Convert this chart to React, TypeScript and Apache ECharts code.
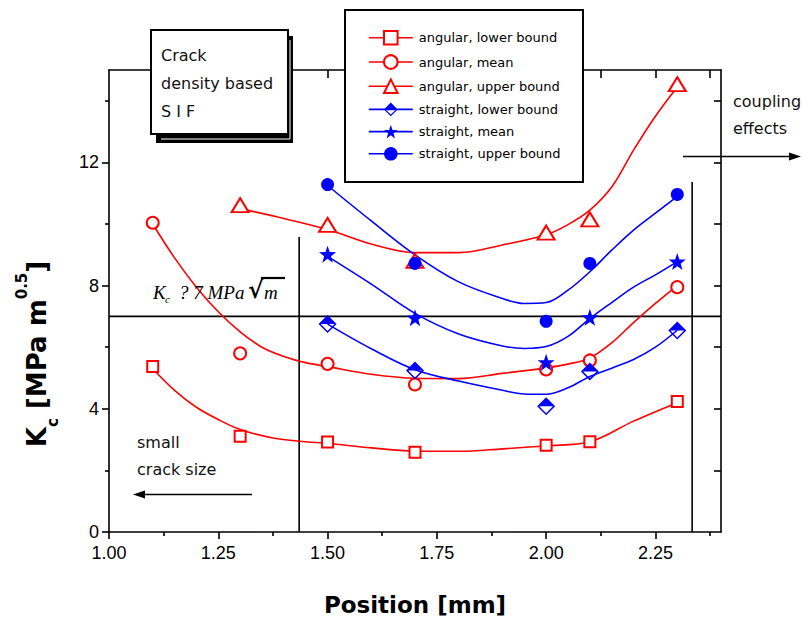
import React, { useEffect, useRef } from 'react';
import * as echarts from 'echarts';

// ---- measured data (markers) ----
const posAngular = [1.1, 1.3, 1.5, 1.7, 2.0, 2.1, 2.3];
const angularLower = [5.37, 3.11, 2.92, 2.59, 2.82, 2.93, 4.24];
const angularMean = [10.04, 5.8, 5.46, 4.79, 5.28, 5.57, 7.95];
const posAngularUpper = [1.3, 1.5, 1.7, 2.0, 2.1, 2.3];
const angularUpper = [10.61, 9.97, 8.8, 9.72, 10.15, 14.54];
const posStraight = [1.5, 1.7, 2.0, 2.1, 2.3];
const straightLower = [6.75, 5.24, 4.08, 5.21, 6.54];
const straightMean = [9.02, 6.96, 5.51, 6.97, 8.78];
const straightUpper = [11.28, 8.72, 6.84, 8.72, 10.96];

// ---- fitted curves ----
const fitAngularLowerX = [1.1, 1.15, 1.2, 1.25, 1.3, 1.375, 1.45, 1.5, 1.6, 1.7, 1.8, 1.9, 2.0, 2.1, 2.2, 2.3];
const fitAngularLowerY = [5.3, 4.6, 4.05, 3.65, 3.33, 3.05, 2.93, 2.88, 2.73, 2.63, 2.62, 2.7, 2.8, 2.93, 3.6, 4.2];
const fitAngularMeanX = [1.1, 1.15, 1.2, 1.25, 1.3, 1.35, 1.4, 1.45, 1.5, 1.6, 1.7, 1.8, 1.9, 2.0, 2.05, 2.1, 2.15, 2.2, 2.25, 2.3];
const fitAngularMeanY = [10.0, 8.9, 7.95, 7.15, 6.5, 6.0, 5.7, 5.5, 5.37, 5.12, 4.99, 4.98, 5.15, 5.33, 5.45, 5.65, 6.14, 6.8, 7.42, 8.0];
const fitAngularUpperX = [1.3, 1.4, 1.5, 1.6, 1.7, 1.8, 1.9, 2.0, 2.05, 2.1, 2.15, 2.2, 2.25, 2.3];
const fitAngularUpperY = [10.5, 10.18, 9.82, 9.35, 9.07, 9.07, 9.32, 9.65, 9.98, 10.45, 11.2, 12.4, 13.5, 14.45];
const fitStraightX = [1.5, 1.6, 1.7, 1.8, 1.9, 1.95, 2.0, 2.05, 2.1, 2.15, 2.2, 2.25, 2.3];
const fitStraightLowerY = [6.75, 5.95, 5.27, 4.9, 4.6, 4.48, 4.47, 4.68, 5.05, 5.32, 5.6, 6.0, 6.55];
const fitStraightMeanY = [8.95, 8.05, 7.1, 6.43, 6.04, 5.96, 6.02, 6.35, 6.93, 7.45, 7.95, 8.35, 8.78];
const fitStraightUpperY = [11.25, 10.1, 9.0, 8.12, 7.58, 7.42, 7.45, 7.85, 8.45, 9.15, 9.8, 10.35, 10.9];

// ---- annotation lines ----
const kcThreshold = 7;
const leftBoundX = 1.435;
const leftBoundTop = 9.58;
const rightBoundX = 2.334;
const rightBoundTop = 11.36;

// ---- axes ----
const xMin = 1.0;
const xMax = 2.4;
const yMin = 0;
const yMax = 15;
const xMajor = [1.0, 1.25, 1.5, 1.75, 2.0, 2.25];
const xMinor = [1.125, 1.375, 1.625, 1.875, 2.125, 2.375];
const xTop = [1.125, 1.25, 1.375, 1.5, 1.625, 1.75, 1.875, 2.0, 2.125, 2.25, 2.375];
const yMajor = [0, 4, 8, 12];
const yMinor = [2, 6, 10, 14];
const yRight = [2, 4, 6, 8, 10, 12, 14];

const names = [
  'angular, lower bound',
  'angular, mean',
  'angular, upper bound',
  'straight, lower bound',
  'straight, mean',
  'straight, upper bound',
];

const RED = '#ff0000';
const BLUE = '#0000ff';
const STAR = 'path://M0,-10L2.35,-3.24L9.51,-3.09L3.8,1.24L5.88,8.09L0,4L-5.88,8.09L-3.8,1.24L-9.51,-3.09L-2.35,-3.24Z';
const HALF_DIAMOND = 'path://M0,-10L10,0L0,10L-10,0ZM0,-7.6L-7.6,0L0,7.6L7.6,0ZM0,-10L10,0L-10,0Z';

const zip = (xs: number[], ys: number[]) => xs.map((x, i) => [x, ys[i]]);

function curve(xs: number[], ys: number[], color: string) {
  return {
    type: 'line',
    data: zip(xs, ys),
    symbol: 'none',
    smooth: 0.35,
    lineStyle: { color, width: 1.6 },
    silent: true,
    z: 2,
  };
}

function markers(name: string, xs: number[], ys: number[], color: string, symbol: string, size: any, empty: boolean) {
  return {
    type: 'line',
    name,
    data: zip(xs, ys),
    symbol,
    symbolSize: size,
    showSymbol: true,
    lineStyle: { width: 0, opacity: 0, color },
    itemStyle: empty ? { color, borderWidth: 1.6 } : { color, borderWidth: 0 },
    z: 4,
  };
}

function blackLine(pts: number[][]) {
  return {
    type: 'line',
    data: pts,
    symbol: 'none',
    lineStyle: { color: '#000', width: 1.6 },
    silent: true,
    z: 1,
  };
}

const txt = (text: string, x: number, y: number, font: string, extra: any = {}) => ({
  type: 'text',
  x,
  y,
  z: 6,
  style: { text, font, fill: '#000', textAlign: 'left', textVerticalAlign: 'middle', ...extra },
});

const axisLine = { show: true, onZero: false, lineStyle: { color: '#000', width: 1.6 } };
const tickStyle = { color: '#000', width: 1.6 };

const option: any = {
  animation: false,
  backgroundColor: '#ffffff',
  grid: { left: 109, top: 70, width: 612, height: 462, containLabel: false },
  xAxis: [
    {
      type: 'value', position: 'bottom', min: xMin, max: xMax,
      axisLine,
      axisTick: { show: true, inside: false, length: 7, customValues: xMajor, lineStyle: tickStyle },
      axisLabel: {
        customValues: xMajor, margin: 12, color: '#000', fontSize: 18, fontFamily: 'Liberation Sans, Arial, sans-serif',
        formatter: (v: number) => v.toFixed(2),
      },
      splitLine: { show: false },
    },
    {
      type: 'value', position: 'bottom', min: xMin, max: xMax,
      axisLine: { show: false, onZero: false },
      axisTick: { show: true, inside: false, length: 4, customValues: xMinor, lineStyle: tickStyle },
      axisLabel: { show: false },
      splitLine: { show: false },
    },
    {
      type: 'value', position: 'top', min: xMin, max: xMax,
      axisLine,
      axisTick: { show: true, inside: true, length: 8, customValues: xTop, lineStyle: tickStyle },
      axisLabel: { show: false },
      splitLine: { show: false },
    },
  ],
  yAxis: [
    {
      type: 'value', position: 'left', min: yMin, max: yMax,
      axisLine,
      axisTick: { show: true, inside: false, length: 7, customValues: yMajor, lineStyle: tickStyle },
      axisLabel: { customValues: yMajor, margin: 10, color: '#000', fontSize: 18, fontFamily: 'Liberation Sans, Arial, sans-serif' },
      splitLine: { show: false },
    },
    {
      type: 'value', position: 'left', min: yMin, max: yMax,
      axisLine: { show: false, onZero: false },
      axisTick: { show: true, inside: false, length: 4, customValues: yMinor, lineStyle: tickStyle },
      axisLabel: { show: false },
      splitLine: { show: false },
    },
    {
      type: 'value', position: 'right', min: yMin, max: yMax,
      axisLine,
      axisTick: { show: true, inside: true, length: 7, customValues: yRight, lineStyle: tickStyle },
      axisLabel: { show: false },
      splitLine: { show: false },
    },
  ],
  legend: {
    data: names,
    orient: 'vertical',
    left: 368,
    top: 30,
    padding: 0,
    itemWidth: 44,
    itemHeight: 17,
    itemGap: 8.6,
    selectedMode: false,
    z: 10,
    lineStyle: { width: 1.6, opacity: 1 },
    textStyle: { fontSize: 13, fontFamily: 'DejaVu Sans', color: '#000', padding: [0, 0, 0, 1] },
  },
  graphic: {
    elements: [
      // crack box
      { type: 'rect', z: 5, shape: { x: 156, y: 36, width: 137, height: 107 }, style: { fill: '#000' } },
      { type: 'polyline', z: 5, shape: { points: [[161, 139], [290, 139], [290, 40]] }, style: { stroke: '#fff', lineWidth: 1, fill: null } },
      { type: 'rect', z: 5, shape: { x: 151, y: 30, width: 137, height: 104 }, style: { fill: '#fff', stroke: '#000', lineWidth: 2 } },
      txt('Crack', 161, 55, '16px "DejaVu Sans"', { fill: '#111' }),
      txt('density based', 161, 83, '16px "DejaVu Sans"', { fill: '#111' }),
      txt('S I F', 161, 111, '16px "DejaVu Sans"', { fill: '#111' }),
      // legend box
      { type: 'rect', z: 5, shape: { x: 345, y: 10, width: 238, height: 172 }, style: { fill: '#fff', stroke: '#000', lineWidth: 2 } },
      // coupling effects
      txt('coupling', 733, 101, '16px "DejaVu Sans"', { fill: '#111' }),
      txt('effects', 733, 128, '16px "DejaVu Sans"', { fill: '#111' }),
      { type: 'line', z: 6, shape: { x1: 683, y1: 156.5, x2: 792, y2: 156.5 }, style: { stroke: '#000', lineWidth: 1.6 } },
      { type: 'polygon', z: 6, shape: { points: [[789, 152.5], [801, 156.5], [789, 160.5]] }, style: { fill: '#000' } },
      // small crack size
      txt('small', 137, 442, '16px "DejaVu Sans"', { fill: '#111' }),
      txt('crack size', 137, 469, '16px "DejaVu Sans"', { fill: '#111' }),
      { type: 'line', z: 6, shape: { x1: 252, y1: 494.5, x2: 142, y2: 494.5 }, style: { stroke: '#000', lineWidth: 1.6 } },
      { type: 'polygon', z: 6, shape: { points: [[145, 490.5], [133, 494.5], [145, 498.5]] }, style: { fill: '#000' } },
      // Kc annotation
      txt('K', 153, 292, 'italic 19px "Liberation Serif"'),
      txt('c', 165, 299, 'italic 11px "Liberation Serif"'),
      txt('? 7 MPa', 179, 292, 'italic 19px "Liberation Serif"'),
      txt('√', 248, 289, 'bold 24px "DejaVu Serif"'),
      txt('m', 264, 292, 'italic 19px "Liberation Serif"'),
      { type: 'line', z: 6, shape: { x1: 261, y1: 278, x2: 285, y2: 278 }, style: { stroke: '#000', lineWidth: 2.2 } },
      // axis titles
      {
        type: 'text', z: 6, x: 415, y: 605,
        style: { text: 'Position [mm]', font: 'bold 23px "DejaVu Sans"', fill: '#000', textAlign: 'center', textVerticalAlign: 'middle' },
      },
      {
        type: 'text', z: 6, x: 37, y: 354, rotation: Math.PI / 2,
        style: {
          text: '{b|K}{s|c}{b| [MPa m}{p|0.5}{b|]}',
          textAlign: 'center', textVerticalAlign: 'middle', fill: '#000',
          rich: {
            b: { fontSize: 26, fontWeight: 'bold', fontFamily: 'DejaVu Sans', lineHeight: 46, fill: '#000' },
            s: { fontSize: 15, fontWeight: 'bold', fontFamily: 'DejaVu Sans', lineHeight: 15, verticalAlign: 'bottom', fill: '#000' },
            p: { fontSize: 15, fontWeight: 'bold', fontFamily: 'DejaVu Sans', lineHeight: 15, verticalAlign: 'top', fill: '#000' },
          },
        },
      },
    ],
  },
  series: [
    blackLine([[xMin, kcThreshold], [xMax, kcThreshold]]),
    blackLine([[leftBoundX, yMin], [leftBoundX, leftBoundTop]]),
    blackLine([[rightBoundX, yMin], [rightBoundX, rightBoundTop]]),
    curve(fitAngularLowerX, fitAngularLowerY, RED),
    curve(fitAngularMeanX, fitAngularMeanY, RED),
    curve(fitAngularUpperX, fitAngularUpperY, RED),
    curve(fitStraightX, fitStraightLowerY, BLUE),
    curve(fitStraightX, fitStraightMeanY, BLUE),
    curve(fitStraightX, fitStraightUpperY, BLUE),
    markers(names[0], posAngular, angularLower, RED, 'emptyRect', 11, true),
    markers(names[1], posAngular, angularMean, RED, 'emptyCircle', 12, true),
    markers(names[2], posAngularUpper, angularUpper, RED, 'emptyTriangle', [17, 14], true),
    markers(names[3], posStraight, straightLower, BLUE, HALF_DIAMOND, 18, false),
    markers(names[4], posStraight, straightMean, BLUE, STAR, 17, false),
    markers(names[5], posStraight, straightUpper, BLUE, 'circle', 13, false),
  ],
};

export default function App() {
  const ref = useRef<HTMLDivElement>(null);
  useEffect(() => {
    if (!ref.current) return;
    const chart = echarts.init(ref.current, null, { renderer: 'svg' });
    chart.setOption(option);
    return () => chart.dispose();
  }, []);
  return (
    <div
      ref={ref}
      style={{ position: 'fixed', left: 0, top: 0, width: 802, height: 621, background: '#fff' }}
    />
  );
}
